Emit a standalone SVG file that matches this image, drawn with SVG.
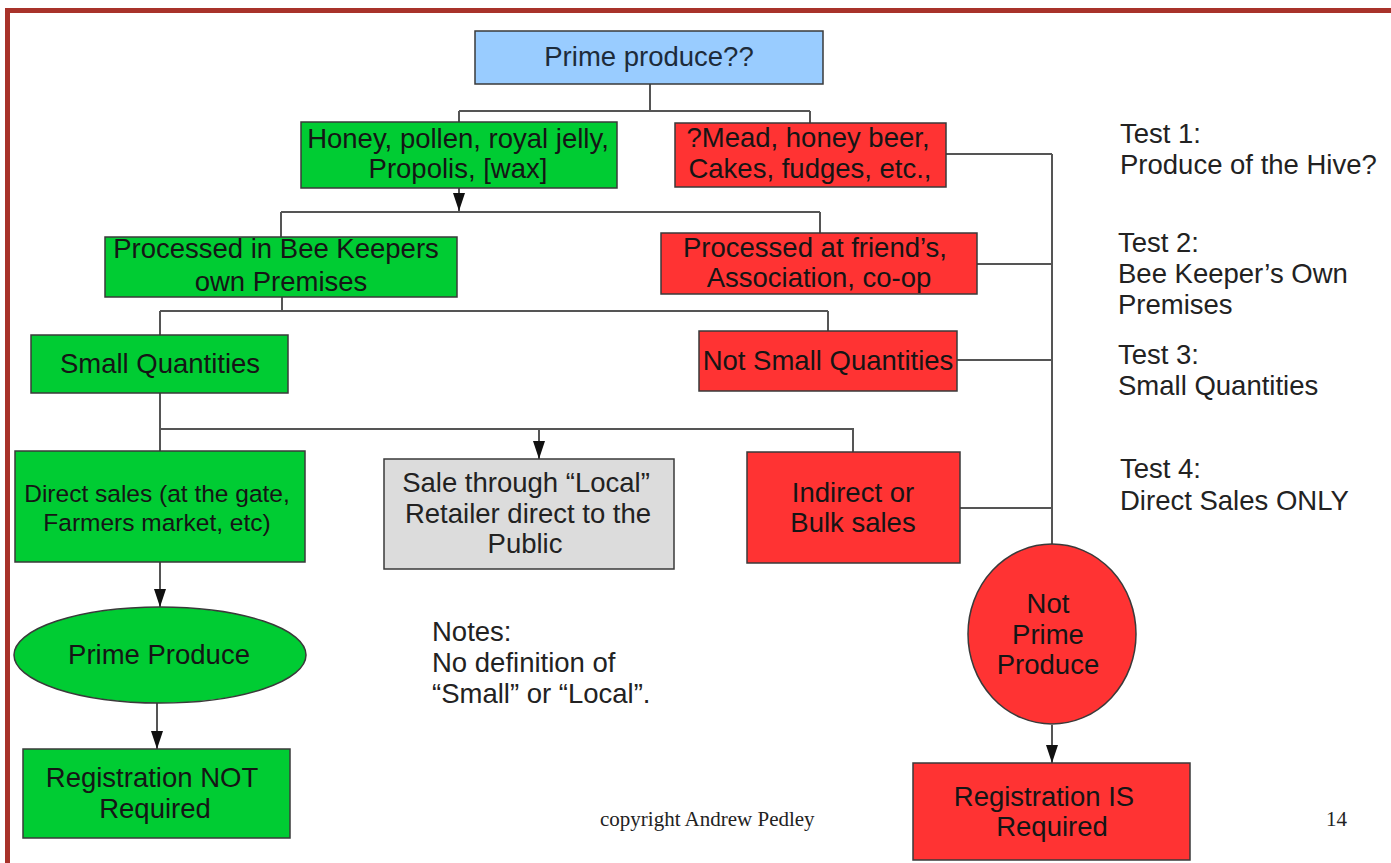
<svg xmlns="http://www.w3.org/2000/svg" width="1391" height="863" viewBox="0 0 1391 863">
<style>
text{font-family:"Liberation Sans",Arial,sans-serif;font-size:27.5px;fill:#151515}
.c{text-anchor:middle}
.box{stroke:#3a3a3a;stroke-width:1.5}
.g{fill:#00cc33}
.r{fill:#ff3333}
.b{fill:#99ccff}
.gr{fill:#dcdcdc}
.conn{fill:none;stroke:#555;stroke-width:2}
.note{fill:#222}
.serif{font-family:"Liberation Serif","Times New Roman",serif;font-size:21px;fill:#222}
</style>
<defs>
<marker id="ah" markerWidth="18" markerHeight="12" refX="18" refY="6" orient="auto" markerUnits="userSpaceOnUse" viewBox="0 0 18 12">
<path d="M0,0 L18,6 L0,12 Z" fill="#111"/>
</marker>
</defs>
<rect x="0" y="0" width="1391" height="863" fill="#ffffff"/>
<path d="M7.5,900 V10.5 H1400" fill="none" stroke="#a8322a" stroke-width="5"/>

<g id="connectors">
<path class="conn" d="M650,84 V111 M459,111 H810 M459,111 V122 M810,111 V123"/>
<path class="conn" d="M459,188 V211" marker-end="url(#ah)"/>
<path class="conn" d="M281,212 H820 M281,212 V237 M820,212 V233"/>
<path class="conn" d="M282,297 V311 M160,311 H828 M160,311 V335 M828,311 V331"/>
<path class="conn" d="M160,393 V451 M160,429 H853 V452"/>
<path class="conn" d="M539,429 V459" marker-end="url(#ah)"/>
<path class="conn" d="M160,562 V607" marker-end="url(#ah)"/>
<path class="conn" d="M157,703 V749" marker-end="url(#ah)"/>
<path class="conn" d="M946,154 H1052 M977,264 H1052 M957,360 H1052 M960,508 H1052 M1052,154 V544"/>
<path class="conn" d="M1052,725 V763" marker-end="url(#ah)"/>
</g>

<g id="prime-produce-q">
<rect class="box b" x="475" y="31" width="348" height="53"/>
<text class="c" x="649" y="66" style="fill:#1d2b3a">Prime produce??</text>
</g>
<g id="hive-products">
<rect class="box g" x="301" y="122" width="316" height="66"/>
<text class="c" x="458" y="148">Honey, pollen, royal jelly,</text>
<text class="c" x="458" y="178">Propolis, [wax]</text>
</g>
<g id="mead-cakes">
<rect class="box r" x="675" y="123" width="271" height="64"/>
<text class="c" x="808" y="147">?Mead, honey beer,</text>
<text class="c" x="810" y="178">Cakes, fudges, etc.,</text>
</g>
<g id="own-premises">
<rect class="box g" x="105" y="237" width="352" height="60"/>
<text class="c" x="276" y="258">Processed in Bee Keepers</text>
<text class="c" x="281" y="291">own Premises</text>
</g>
<g id="friends-premises">
<rect class="box r" x="661" y="233" width="316" height="61"/>
<text class="c" x="815" y="257">Processed at friend’s,</text>
<text class="c" x="819" y="287">Association, co-op</text>
</g>
<g id="small-quantities">
<rect class="box g" x="31" y="335" width="257" height="58"/>
<text class="c" x="160" y="373">Small Quantities</text>
</g>
<g id="not-small-quantities">
<rect class="box r" x="699" y="331" width="258" height="60"/>
<text class="c" x="828" y="370">Not Small Quantities</text>
</g>
<g id="direct-sales">
<rect class="box g" x="15" y="451" width="290" height="111"/>
<text class="c" x="157" y="502" style="font-size:24.5px">Direct sales (at the gate,</text>
<text class="c" x="157" y="531" style="font-size:24.5px">Farmers market, etc)</text>
</g>
<g id="local-retailer">
<rect class="box gr" x="384" y="459" width="290" height="110"/>
<text class="c" x="526" y="492" style="fill:#222">Sale through “Local”</text>
<text class="c" x="528" y="523" style="fill:#222">Retailer direct to the</text>
<text class="c" x="525" y="553" style="fill:#222">Public</text>
</g>
<g id="bulk-sales">
<rect class="box r" x="747" y="452" width="213" height="111"/>
<text class="c" x="853" y="502">Indirect or</text>
<text class="c" x="853" y="532">Bulk sales</text>
</g>
<g id="prime-produce">
<ellipse class="box g" cx="160" cy="655" rx="146" ry="48"/>
<text class="c" x="159" y="664">Prime Produce</text>
</g>
<g id="not-prime-produce">
<ellipse class="box r" cx="1052" cy="634" rx="84" ry="90"/>
<text class="c" x="1048" y="613">Not</text>
<text class="c" x="1048" y="644">Prime</text>
<text class="c" x="1048" y="674">Produce</text>
</g>
<g id="registration-not-required">
<rect class="box g" x="23" y="749" width="267" height="89"/>
<text class="c" x="152" y="787">Registration NOT</text>
<text class="c" x="155" y="818">Required</text>
</g>
<g id="registration-required">
<rect class="box r" x="913" y="763" width="277" height="97"/>
<text class="c" x="1044" y="806">Registration IS</text>
<text class="c" x="1052" y="836">Required</text>
</g>

<g id="tests" class="note">
<text x="1120" y="143" class="note">Test 1:</text>
<text x="1120" y="174" class="note">Produce of the Hive?</text>
<text x="1118" y="252" class="note">Test 2:</text>
<text x="1118" y="283" class="note">Bee Keeper’s Own</text>
<text x="1118" y="314" class="note">Premises</text>
<text x="1118" y="364" class="note">Test 3:</text>
<text x="1118" y="395" class="note">Small Quantities</text>
<text x="1120" y="478" class="note">Test 4:</text>
<text x="1120" y="510" class="note">Direct Sales ONLY</text>
</g>
<g id="notes">
<text x="432" y="641" class="note">Notes:</text>
<text x="432" y="672" class="note">No definition of</text>
<text x="432" y="703" class="note">“Small” or “Local”.</text>
</g>
<text x="600" y="826" class="serif">copyright Andrew Pedley</text>
<text x="1326" y="826" class="serif">14</text>
</svg>
